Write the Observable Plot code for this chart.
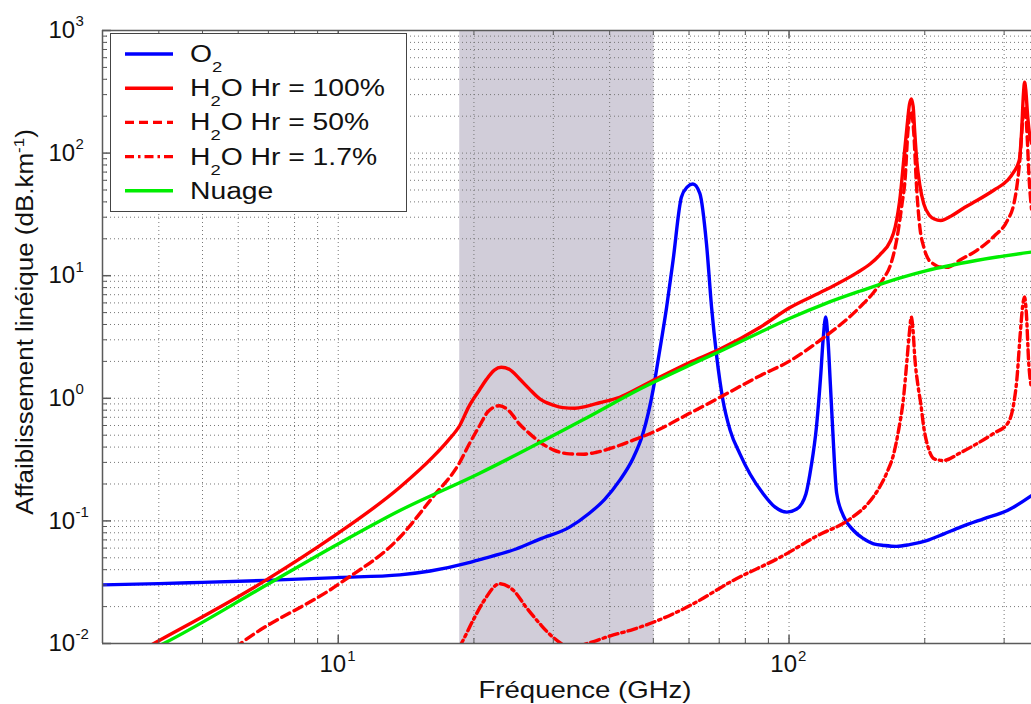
<!DOCTYPE html>
<html><head><meta charset="utf-8">
<script src="https://cdn.jsdelivr.net/npm/d3@7"></script>
<script src="https://cdn.jsdelivr.net/npm/@observablehq/plot@0.6"></script>
<style>
html,body{margin:0;padding:0;background:#fff;}
#wrap{position:relative;width:1031px;height:704px;overflow:hidden;}
#wrap svg{position:absolute;left:0;top:0;}
</style></head><body><div id="wrap"></div>
<script>
// ---- data (frequency in GHz, specific attenuation in dB/km) ----
const o2Freq = [3, 4, 5, 6.9, 10, 13.7, 16, 19.2, 20.6, 24.8, 28, 32.6, 36, 39, 42.1, 45, 47.4, 50, 51.5, 53.5, 55.3, 57.7, 59.5, 61.2, 63.4, 65.6, 67.3, 69.1, 71.4, 74, 77.8, 82, 87.7, 93, 98.9, 104, 109, 112, 115, 117.5, 119, 120.6, 122, 123.5, 125, 127.5, 132, 139, 146, 154, 163, 173, 185, 202, 220, 240, 270, 305, 345];
const o2Atten = [0.0301, 0.0308, 0.0315, 0.0327, 0.0345, 0.0363, 0.039, 0.045, 0.0484, 0.059, 0.071, 0.089, 0.115, 0.15, 0.214, 0.32, 0.513, 1.2, 2.3, 5.5, 13.3, 43.6, 53, 56, 47, 18.2, 5.6, 2.2, 0.95, 0.55, 0.352, 0.24, 0.166, 0.13, 0.118, 0.125, 0.166, 0.28, 0.58, 1.5, 3.0, 4.6, 3.0, 1.3, 0.55, 0.17, 0.11, 0.0835, 0.072, 0.065, 0.063, 0.062, 0.064, 0.069, 0.078, 0.089, 0.104, 0.1216, 0.161];

const h100Freq = [3.6, 3.9, 6.9, 9.7, 13.7, 16.2, 17.5, 18.6, 19.5, 20.6, 21.3, 22.2, 23, 24, 25.2, 26.5, 28, 30, 31.5, 33.5, 35.5, 38, 42.1, 46.7, 50, 60, 70, 86.3, 100.5, 120, 141, 151.5, 159, 167.6, 172, 176.5, 180, 182.6, 185, 186.7, 188.5, 190, 192, 195, 199, 205, 210, 217, 230, 245, 261, 285, 305, 315, 324, 328, 331, 333, 335, 338, 341, 345];
const h100Atten = [0.0085, 0.01, 0.0327, 0.0736, 0.188, 0.331, 0.45, 0.6, 0.86, 1.18, 1.42, 1.7, 1.79, 1.72, 1.45, 1.2, 0.99, 0.88, 0.84, 0.83, 0.86, 0.92, 1.02, 1.23, 1.4, 1.95, 2.5, 3.8, 5.5, 7.6, 10.5, 12.5, 14.8, 19, 25, 45, 95, 162, 250, 277, 240, 150, 87, 55, 38.5, 31, 29, 28.2, 31, 36, 41, 50, 59.8, 70, 87, 150, 300, 378, 330, 210, 150, 120];

const h50Freq = [5.9, 6.12, 10.05, 13.7, 16.2, 18.6, 19.5, 20.6, 21.5, 22.8, 24, 25.2, 26.5, 28, 30, 32.6, 35, 37.4, 41, 45.9, 50, 60, 70.3, 86.3, 100, 117, 144, 154, 162, 167.6, 173, 178, 181, 183.5, 186.7, 189, 192, 195, 199, 204, 209, 215, 224, 240, 261, 285, 305, 315, 320, 326, 330, 334, 337, 341, 345];
const h50Atten = [0.0092, 0.0102, 0.0307, 0.0736, 0.156, 0.30, 0.42, 0.60, 0.78, 0.87, 0.78, 0.62, 0.52, 0.44, 0.38, 0.352, 0.35, 0.363, 0.40, 0.467, 0.53, 0.75, 1.02, 1.53, 2.0, 2.96, 5.6, 7.3, 9.5, 12, 19, 38, 63, 150, 220, 150, 50, 25, 17.1, 13.5, 12.5, 11.8, 11.7, 13.5, 16.1, 21, 28.2, 38, 52.7, 100, 190, 237, 150, 60, 35];

const h17Freq = [18.5, 18.75, 19.9, 21, 22.8, 24.5, 26.1, 28, 29.9, 32, 34, 36, 40, 45, 50, 60.3, 75.2, 97, 115, 136.7, 150, 159, 165, 170.6, 175, 179.5, 182.6, 185, 186.7, 188.5, 190, 193, 196, 199, 204, 210, 220, 240, 261, 285, 305, 315, 320, 326, 330, 333, 336, 340, 345];
const h17Atten = [0.0092, 0.01, 0.0154, 0.022, 0.0307, 0.027, 0.0198, 0.0145, 0.0113, 0.0097, 0.0096, 0.0101, 0.0115, 0.013, 0.0149, 0.0204, 0.0327, 0.052, 0.075, 0.104, 0.14, 0.19, 0.25, 0.35, 0.55, 1.02, 2.03, 3.5, 4.6, 3.5, 2.2, 1.3, 0.9, 0.58, 0.387, 0.32, 0.311, 0.36, 0.426, 0.52, 0.62, 0.9, 1.4, 3.5, 5.8, 6.7, 5, 2, 1.2];

const cloudFreq = [3.8, 4.1, 6.9, 9.7, 13.7, 20.6, 25.2, 35, 46.7, 60, 70, 86.3, 100.5, 120, 144, 176.5, 202, 260, 345];
const cloudAtten = [0.0087, 0.01, 0.0297, 0.061, 0.1216, 0.245, 0.356, 0.67, 1.19, 1.85, 2.4, 3.46, 4.5, 5.9, 7.5, 9.6, 11.0, 13.3, 15.6];

const bandGHz = [18.6, 50.2];

const xMajorTicks = [10, 100];
const xExponentLabels = ["1", "2"];
const xMinorTicks = [4, 5, 6, 7, 8, 9, 20, 30, 40, 50, 60, 70, 80, 90, 200, 300];
const yMajorTicks = [0.01, 0.1, 1, 10, 100, 1000];
const yExponentLabels = ["-2", "-1", "0", "1", "2", "3"];
const yMinorTicks = [];
for (const p of [0.01, 0.1, 1, 10, 100]) for (let k = 2; k <= 9; k++) yMinorTicks.push(+(k * p).toPrecision(3));

const legendLabels = [["O", "2", ""], ["H", "2", "O Hr = 100%"], ["H", "2", "O Hr = 50%"], ["H", "2", "O Hr = 1.7%"], ["Nuage", "", ""]];
const legendColors = ["#0000ff", "#ff0000", "#ff0000", "#ff0000", "#00ee00"];
const legendDashes = ["none", "none", "9,5", "9,4,2.5,4", "none"];
const xTitle = "Fréquence (GHz)";
const yTitle = ["Affaiblissement linéique (dB.km", "-1", ")"];

// ---- layout ----
const W = 1031, H = 704, mL = 102, mR = 0, mT = 30, mB = 61;
const innerW = W - mL - mR, innerH = H - mT - mB;
const font = "'Liberation Sans', Arial, Helvetica, sans-serif";
const rows = (fs, vs) => fs.map((f, i) => ({f, v: vs[i]}));
const lineOpts = {x: "f", y: "v", clip: true, curve: "monotone-x", strokeWidth: 3.4, strokeLinejoin: "round"};
const gridOpts = {stroke: "#777", strokeWidth: 1, strokeDasharray: "1,3"};
const axisColor = "#5a5a5a";

const plot = Plot.plot({
  width: W, height: H, marginLeft: mL, marginRight: mR, marginTop: mT, marginBottom: mB,
  x: {type: "log", domain: [3, 345], axis: null},
  y: {type: "log", domain: [0.01, 1000], axis: null},
  style: {background: "transparent", fontFamily: font, color: "#111", overflow: "visible"},
  marks: [
    Plot.rect([bandGHz], {x1: d => d[0], x2: d => d[1], fill: "#d1cdd9"}),
    Plot.ruleX(xMinorTicks.concat(xMajorTicks), {...gridOpts}),
    Plot.ruleY(yMinorTicks.concat(yMajorTicks), {...gridOpts}),
    Plot.line(rows(o2Freq, o2Atten), {...lineOpts, stroke: legendColors[0]}),
    Plot.line(rows(h100Freq, h100Atten), {...lineOpts, stroke: legendColors[1]}),
    Plot.line(rows(h50Freq, h50Atten), {...lineOpts, stroke: legendColors[2], strokeDasharray: legendDashes[2]}),
    Plot.line(rows(h17Freq, h17Atten), {...lineOpts, stroke: legendColors[3], strokeDasharray: legendDashes[3]}),
    Plot.line(rows(cloudFreq, cloudAtten), {...lineOpts, stroke: legendColors[4]}),
    // axes lines
    Plot.ruleX([3], {stroke: axisColor, strokeWidth: 1.5}),
    Plot.ruleY([0.01, 1000], {stroke: axisColor, strokeWidth: 1.5}),
    // inward ticks
    Plot.tickX(xMinorTicks, {x: d => d, insetTop: innerH - 5, stroke: axisColor}),
    Plot.tickX(xMinorTicks, {x: d => d, insetBottom: innerH - 5, stroke: axisColor}),
    Plot.tickX(xMajorTicks, {x: d => d, insetTop: innerH - 8, stroke: axisColor, strokeWidth: 1.5}),
    Plot.tickX(xMajorTicks, {x: d => d, insetBottom: innerH - 8, stroke: axisColor, strokeWidth: 1.5}),
    Plot.tickY(yMinorTicks, {y: d => d, insetRight: innerW - 5, stroke: axisColor}),
    Plot.tickY(yMajorTicks, {y: d => d, insetRight: innerW - 9, stroke: axisColor, strokeWidth: 1.5}),
    // tick labels
    Plot.text(yMajorTicks, {y: d => d, frameAnchor: "left", text: () => "10", textAnchor: "start", dx: -54, fontSize: 24, fill: "#111"}),
    Plot.text(yMajorTicks, {y: d => d, frameAnchor: "left", text: yExponentLabels, textAnchor: "start", dx: -27, dy: -9, fontSize: 15, fill: "#111"}),
    Plot.text(xMajorTicks, {x: d => d, frameAnchor: "bottom", text: () => "10", textAnchor: "end", dx: 8, dy: 28, fontSize: 24, fill: "#111"}),
    Plot.text(xMajorTicks, {x: d => d, frameAnchor: "bottom", text: xExponentLabels, textAnchor: "start", dx: 9, dy: 17, fontSize: 15, fill: "#111"})
  ]
});
document.getElementById("wrap").appendChild(plot);

// ---- overlay: titles and legend ----
const ov = d3.select("#wrap").append("svg").attr("width", W).attr("height", H)
  .style("font-family", font).style("pointer-events", "none");

ov.append("g").attr("transform", "translate(585,698) scale(1.2,1)")
  .append("text").attr("text-anchor", "middle").attr("font-size", 23).attr("fill", "#111").text(xTitle);

const yt = ov.append("g").attr("transform", "translate(33,322) rotate(-90) scale(1.13,1)")
  .append("text").attr("text-anchor", "middle").attr("font-size", 23).attr("fill", "#111");
yt.append("tspan").text(yTitle[0]);
yt.append("tspan").attr("font-size", 15).attr("dy", -9).text(yTitle[1]);
yt.append("tspan").attr("dy", 9).text(yTitle[2]);

const lg = ov.append("g");
lg.append("rect").attr("x", 110.5).attr("y", 33.5).attr("width", 296).attr("height", 178)
  .attr("fill", "#fff").attr("stroke", "#444").attr("stroke-width", 1);
legendLabels.forEach((lab, i) => {
  const y = 54 + i * 34.2;
  lg.append("line").attr("x1", 125).attr("x2", 173).attr("y1", y).attr("y2", y)
    .attr("stroke", legendColors[i]).attr("stroke-width", 3.4)
    .attr("stroke-dasharray", legendDashes[i]);
  const t = lg.append("g").attr("transform", `translate(190,${y + 8}) scale(1.23,1)`)
    .append("text").attr("font-size", 23).attr("fill", "#111");
  t.append("tspan").text(lab[0]);
  if (lab[1]) {
    t.append("tspan").attr("font-size", 15).attr("dy", 10).text(lab[1]);
    if (lab[2]) t.append("tspan").attr("dy", -10).text(lab[2]);
  }
});
</script></body></html>
